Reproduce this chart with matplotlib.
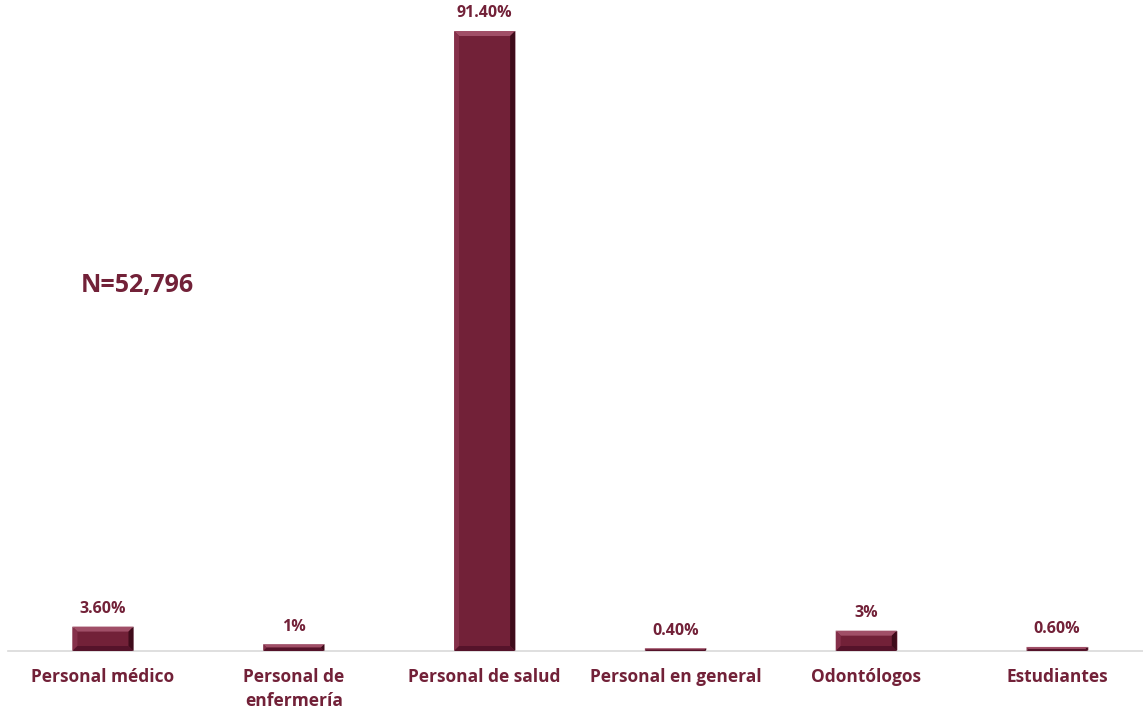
import matplotlib
matplotlib.use("Agg")
import matplotlib.pyplot as plt
from matplotlib.patches import Polygon

categories = ["Personal médico", "Personal de\nenfermería", "Personal de salud",
              "Personal en general", "Odontólogos", "Estudiantes"]
values = [3.6, 1.0, 91.4, 0.4, 3.0, 0.6]
value_labels = ["3.60%", "1%", "91.40%", "0.40%", "3%", "0.60%"]
total_label = "N=52,796"

WINE = "#722138"
FONT = ["Open Sans", "DejaVu Sans"]

fig = plt.figure(figsize=(11.43, 7.08), dpi=100)
ax = fig.add_axes([0.0066, 0.0805, 1.0017, 0.9195])
ax.set_xlim(-0.5, len(categories) - 0.5)
ax.set_ylim(0, 95.97)

bars = ax.bar(range(len(categories)), values, width=0.32, color=WINE,
              edgecolor="#d8c4ca", linewidth=0.6, zorder=2)

# bevel facets, sized in pixels and converted to data units
fig.canvas.draw()
inv = ax.transData.inverted()
p0 = inv.transform((0, 0))
p1 = inv.transform((5, 5))
bx, by = p1[0] - p0[0], p1[1] - p0[1]

for bar in bars:
    x0, w, h = bar.get_x(), bar.get_width(), bar.get_height()
    x1 = x0 + w
    d = min(by, h / 2)
    e = min(bx, w / 2) if h / 2 >= by else bx * (d / by)
    facets = [
        ([(x0, h), (x1, h), (x1 - e, h - d), (x0 + e, h - d)], "#a04f67"),  # top
        ([(x0, 0), (x0, h), (x0 + e, h - d), (x0 + e, d)], "#85304a"),      # left
        ([(x1, 0), (x1, h), (x1 - e, h - d), (x1 - e, d)], "#3f0c1b"),      # right
        ([(x0, 0), (x1, 0), (x1 - e, d), (x0 + e, d)], "#55132a"),          # bottom
    ]
    for pts, c in facets:
        ax.add_patch(Polygon(pts, closed=True, facecolor=c, edgecolor="none", zorder=3))

for bar, lab in zip(bars, value_labels):
    ax.annotate(lab, (bar.get_x() + bar.get_width() / 2, bar.get_height()),
                xytext=(0, 7), textcoords="offset points", ha="center", va="bottom",
                fontsize=11.5, fontweight="bold", color=WINE, family=FONT)

ax.text(0.064, 0.561, total_label, transform=ax.transAxes, ha="left", va="center",
        fontsize=18, fontweight="bold", color=WINE, family=FONT)

for s in ["top", "right", "left"]:
    ax.spines[s].set_visible(False)
ax.spines["bottom"].set_color("#d9d9d9")
ax.spines["bottom"].set_linewidth(1.2)
ax.set_yticks([])
ax.set_xticks(range(len(categories)))
ax.set_xticklabels(categories, fontsize=12.5, fontweight="bold", color=WINE,
                   family=FONT, linespacing=1.45)
ax.tick_params(axis="x", length=0, pad=12)

fig.savefig("out.png", dpi=100, facecolor="white")
